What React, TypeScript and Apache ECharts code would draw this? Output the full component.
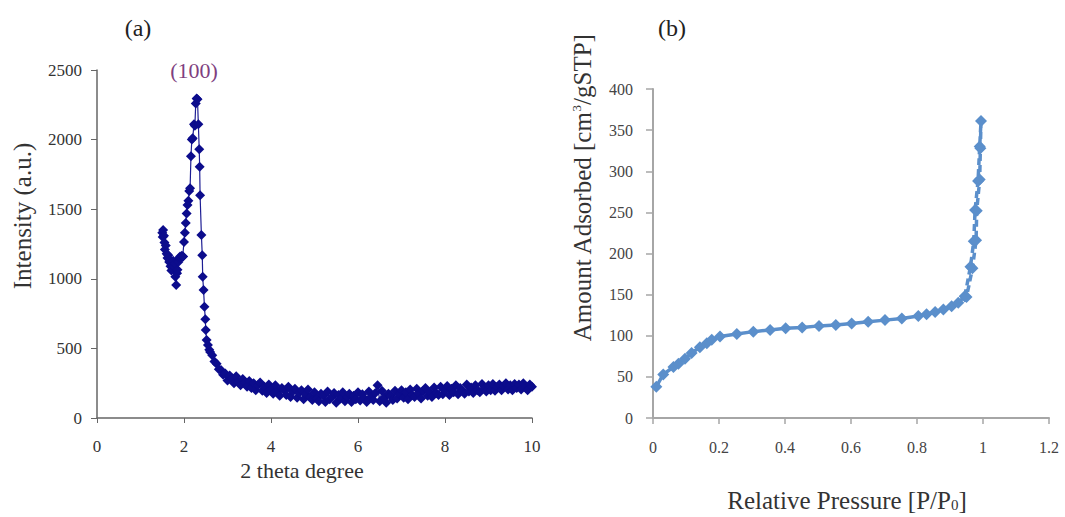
import React, { useEffect, useRef } from "react";
import * as echarts from "echarts";

// (a) XRD pattern: low-angle region around the (100) reflection [2θ, intensity]
const xrdPeak: [number, number][] = [
  [1.5, 1330], [1.51, 1300], [1.52, 1350], [1.54, 1310], [1.55, 1260], [1.56, 1210],
  [1.58, 1240], [1.6, 1180], [1.62, 1150], [1.64, 1170], [1.66, 1120], [1.68, 1135],
  [1.69, 1090], [1.71, 1060], [1.73, 1100], [1.75, 1130], [1.77, 1090], [1.79, 1110],
  [1.8, 1015], [1.82, 955], [1.84, 1040], [1.85, 1065], [1.87, 1120], [1.89, 1150],
  [1.91, 1160], [1.93, 1150], [1.95, 1165], [1.97, 1160], [1.98, 1160], [2.0, 1265],
  [2.02, 1330], [2.04, 1400], [2.06, 1470], [2.08, 1530], [2.1, 1560], [2.12, 1630],
  [2.14, 1650], [2.16, 1880], [2.18, 2000], [2.2, 2010], [2.23, 2110], [2.25, 2100],
  [2.27, 2260], [2.29, 2295], [2.31, 2290], [2.33, 2110], [2.35, 1930], [2.36, 1805],
  [2.37, 1600], [2.4, 1315], [2.42, 1170], [2.43, 1015], [2.45, 920], [2.47, 800],
  [2.49, 710], [2.5, 632], [2.52, 560], [2.55, 525], [2.58, 490],
];
// (a) XRD pattern: tail, sampled every 0.05° from 2.60° to 10.00°
const xrdTailStart = 2.6;
const xrdTailStep = 0.05;
const xrdTail: number[] = [
  475, 450, 405, 390, 350, 345, 310, 320,
  270, 305, 285, 250, 300, 260, 235, 280, 255, 225,
  265, 215, 250, 200, 235, 255, 195, 225, 180, 240,
  205, 175, 235, 190, 160, 215, 200, 165, 225, 150,
  190, 210, 145, 180, 200, 135, 170, 205, 150, 130,
  185, 140, 120, 175, 160, 115, 190, 135, 150, 180,
  110, 165, 140, 185, 120, 150, 175, 115, 160, 135,
  185, 125, 170, 140, 115, 190, 150, 130, 180, 235,
  120, 195, 145, 110, 175, 160, 130, 195, 140, 170,
  200, 145, 185, 135, 205, 165, 150, 210, 175, 140,
  195, 215, 160, 185, 150, 220, 180, 165, 225, 170,
  200, 230, 165, 210, 185, 235, 170, 215, 195, 175,
  240, 190, 220, 180, 235, 200, 185, 245, 210, 190,
  235, 200, 245, 195, 225, 240, 200, 230, 250, 205,
  235, 200, 245, 215, 240, 205, 250, 220, 200, 240,
  225,
];

// (b) N2 isotherm: relative pressure and amount adsorbed (solid part)
const adsP = [
  0.01, 0.031, 0.062, 0.077, 0.097, 0.117, 0.142, 0.163, 0.178, 0.203, 0.254, 0.304,
  0.355, 0.402, 0.452, 0.503, 0.554, 0.602, 0.652, 0.703, 0.754, 0.804, 0.829, 0.855,
  0.88, 0.905, 0.925, 0.945,
];
const adsV = [
  38, 53, 62, 66, 72, 79, 86, 91, 95, 99, 102, 105, 107, 109, 110, 112, 113, 115, 117,
  119, 121, 124, 126, 129, 132, 136, 140, 148,
];
// (b) N2 isotherm: steep capillary-condensation part and return branch (dashed)
const loopP = [0.945, 0.962, 0.972, 0.976, 0.985, 0.99, 0.994, 0.992, 0.99, 0.981, 0.979, 0.968, 0.95];
const loopV = [148, 184, 215, 253, 288, 330, 361, 328, 290, 252, 216, 182, 147];

const serif = "'Liberation Serif', 'Times New Roman', serif";

export default function App() {
  const ref = useRef<HTMLDivElement>(null);
  useEffect(() => {
    if (!ref.current) return;
    const chart = echarts.init(ref.current, undefined, { renderer: "svg" });
    const xrdData: [number, number][] = [
      ...xrdPeak,
      ...xrdTail.map((v, i) => [xrdTailStart + i * xrdTailStep, v] as [number, number]),
    ];
    const adsData = adsP.map((p, i) => [p, adsV[i]]);
    const loopData = loopP.map((p, i) => [p, loopV[i]]);
    const tickLabelL = { fontFamily: serif, fontSize: 17, color: "#333" };
    const tickLabelR = { fontFamily: serif, fontSize: 16, color: "#444" };
    chart.setOption({
      animation: false,
      backgroundColor: "#ffffff",
      grid: [
        { left: 97, top: 70, width: 435, height: 348 },
        { left: 653, top: 89, width: 396, height: 329 },
      ],
      xAxis: [
        {
          gridIndex: 0, type: "value", min: 0, max: 10, interval: 2,
          axisLine: { lineStyle: { color: "#666", width: 1.5 } },
          axisTick: { show: true, length: 5, lineStyle: { color: "#666" } },
          axisLabel: { ...tickLabelL, margin: 20, formatter: (v: number) => String(v) },
          splitLine: { show: false },
        },
        {
          gridIndex: 1, type: "value", min: 0, max: 1.2, interval: 0.2,
          axisLine: { lineStyle: { color: "#a6a6a6", width: 2 } },
          axisTick: { show: true, length: 6, lineStyle: { color: "#a6a6a6", width: 1.5 } },
          axisLabel: { ...tickLabelR, margin: 21, formatter: (v: number) => String(Math.round(v * 10) / 10) },
          splitLine: { show: false },
        },
      ],
      yAxis: [
        {
          gridIndex: 0, type: "value", min: 0, max: 2500, interval: 500,
          axisLine: { show: true, lineStyle: { color: "#666", width: 1.5 } },
          axisTick: { show: true, length: 6, lineStyle: { color: "#666" } },
          axisLabel: { ...tickLabelL, margin: 15, formatter: (v: number) => String(v) },
          splitLine: { show: false },
        },
        {
          gridIndex: 1, type: "value", min: 0, max: 400, interval: 50,
          axisLine: { show: true, lineStyle: { color: "#a6a6a6", width: 2 } },
          axisTick: { show: true, length: 7, lineStyle: { color: "#a6a6a6", width: 1.5 } },
          axisLabel: { ...tickLabelR, margin: 20, formatter: (v: number) => String(v) },
          splitLine: { show: false },
        },
      ],
      series: [
        {
          type: "line", xAxisIndex: 0, yAxisIndex: 0, data: xrdData,
          symbol: "diamond", symbolSize: 10, showAllSymbol: true,
          itemStyle: { color: "#0c0c8c" },
          lineStyle: { color: "#1e1e94", width: 1.2 },
        },
        {
          type: "line", xAxisIndex: 1, yAxisIndex: 1, data: adsData,
          symbol: "diamond", symbolSize: 12, showAllSymbol: true,
          itemStyle: { color: "#5b8fcb" },
          lineStyle: { color: "#5b8fcb", width: 3.5 },
        },
        {
          type: "line", xAxisIndex: 1, yAxisIndex: 1, data: loopData,
          symbol: "diamond", symbolSize: 12, showAllSymbol: true,
          itemStyle: { color: "#5b8fcb" },
          lineStyle: { color: "#5b8fcb", width: 3.5, type: [7, 4] },
        },
      ],
      graphic: [
        { type: "text", x: 138, y: 28, style: { text: "(a)", font: `24px ${serif}`, fill: "#222", align: "center", verticalAlign: "middle" } },
        { type: "text", x: 672, y: 28, style: { text: "(b)", font: `24px ${serif}`, fill: "#222", align: "center", verticalAlign: "middle" } },
        { type: "text", x: 194, y: 70, style: { text: "(100)", font: `22px ${serif}`, fill: "#7f3f80", align: "center", verticalAlign: "middle" } },
        {
          type: "text", x: 22, y: 216, rotation: Math.PI / 2,
          style: { text: "Intensity (a.u.)", font: `25px ${serif}`, fill: "#333", align: "center", verticalAlign: "middle" },
        },
        {
          type: "text", x: 302, y: 470,
          style: { text: "2 theta degree", font: `22px ${serif}`, fill: "#333", align: "center", verticalAlign: "middle" },
        },
        {
          type: "text", x: 582, y: 188, rotation: Math.PI / 2,
          style: {
            text: "Amount Adsorbed [cm{sup|3}/gSTP]",
            fontFamily: serif, fontSize: 25, fill: "#333", align: "center", verticalAlign: "middle",
            rich: { sup: { fontFamily: serif, fontSize: 13, fill: "#333", verticalAlign: "top" } },
          },
        },
        {
          type: "text", x: 847, y: 500,
          style: {
            text: "Relative Pressure [P/P{sub|0}]",
            fontFamily: serif, fontSize: 25, fill: "#333", align: "center", verticalAlign: "middle",
            rich: { sub: { fontFamily: serif, fontSize: 15, fill: "#333", verticalAlign: "bottom" } },
          },
        },
      ],
    });
    return () => chart.dispose();
  }, []);
  return <div ref={ref} style={{ position: "fixed", left: 0, top: 0, width: 1065, height: 517 }} />;
}
